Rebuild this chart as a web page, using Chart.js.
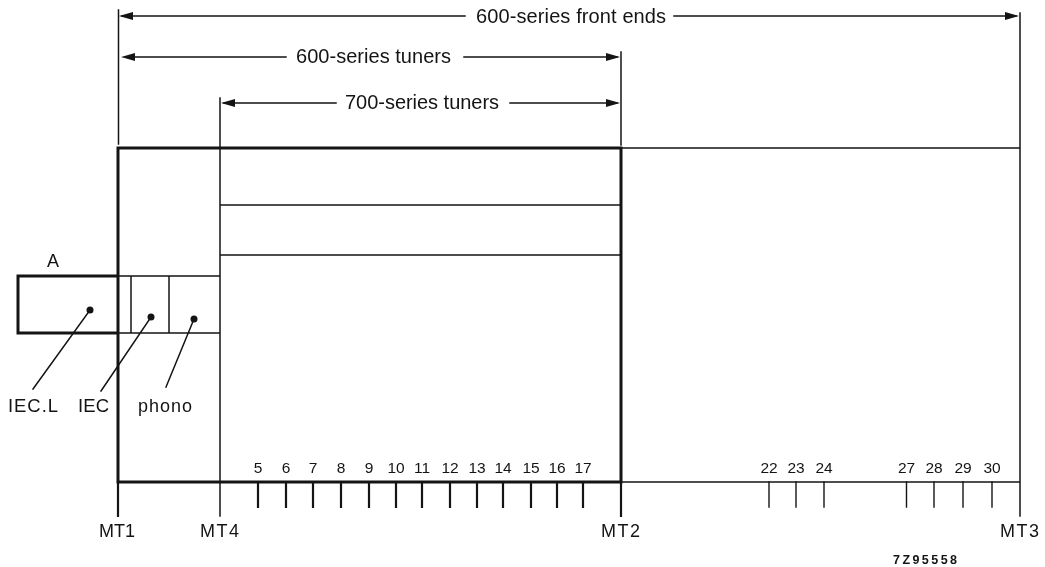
<!DOCTYPE html>
<html>
<head>
<meta charset="utf-8">
<title>600-series front ends</title>
<script src="https://cdn.jsdelivr.net/npm/chart.js@4"></script>
<style>
html, body { margin: 0; padding: 0; background: #fff; }
canvas { display: block; }
</style>
</head>
<body>
<canvas id="myChart" width="1045" height="567"></canvas>
<script>
// every value is in drawing units of the original figure (x 0-1045, y 0-567 downwards)
const heavySegments = [
  [118, 148, 621, 148], [118, 482, 621, 482], [118, 148, 118, 482], [621, 148, 621, 482],
  [18, 276, 118, 276], [18, 333, 118, 333], [18, 276, 18, 333]
];
const mediumSegments = [
  [118, 482, 118, 516], [621, 482, 621, 516]
];
const thinSegments = [
  [118.5, 10, 118.5, 144], [621, 52, 621, 145], [220, 98, 220, 516], [1020, 13, 1020, 516],
  [621, 148, 1020, 148], [621, 482, 1020, 482],
  [220, 205, 621, 205], [220, 255, 621, 255],
  [118, 276, 220, 276], [118, 333, 220, 333], [131, 276, 131, 333], [169, 276, 169, 333],
  [122, 16, 465, 16], [674, 16, 1016, 16],
  [126, 57, 286, 57], [464, 57, 617, 57],
  [224, 103, 336, 103], [510, 103, 617, 103],
  [90, 310, 33, 389], [151, 317, 101, 391], [194, 319, 166, 387]
];

const tunerChannels = ['5', '6', '7', '8', '9', '10', '11', '12', '13', '14', '15', '16', '17'];
const tunerTickX = [258, 286, 313, 341, 369, 396, 422, 450, 477, 503, 531, 557, 583];
const frontChannels = ['22', '23', '24', '27', '28', '29', '30'];
const frontTickX = [769, 796, 824, 906.5, 934, 963, 992];
const tickTop = 482;
const tickBottom = 507;
const channelLabelY = 473;

const dotPoints = [[90, 310], [151, 317], [194, 319]];
const arrowsLeft = [[119, 16], [121, 57], [221, 103]];
const arrowsRight = [[1019, 16], [620, 57], [620, 103]];

// text, x start, baseline y, width, font size
const captions = [
  ['600-series front ends', 476, 23, 190, 20],
  ['600-series tuners', 296, 63, 155, 20],
  ['700-series tuners', 345, 109, 154, 20],
  ['A', 47, 267, 14, 18],
  ['IEC.L', 8, 412, 50, 18.5],
  ['IEC', 78, 412, 31, 18.5],
  ['phono', 138, 412, 54, 18],
  ['MT1', 99, 537, 36, 18],
  ['MT4', 200, 537, 39, 18],
  ['MT2', 601, 537, 39, 18],
  ['MT3', 1000, 537, 39, 18]
];
const figureCode = ['7Z95558', 893, 564, 64, 12.5];

const INK = '#141414';

function toPoints(segments) {
  const pts = [];
  segments.forEach(s => {
    pts.push({ x: s[0], y: s[1] }, { x: s[2], y: s[3] }, { x: s[2], y: null });
  });
  return pts;
}

function ticksToSegments(xs) {
  return xs.map(x => [x, tickTop, x, tickBottom]);
}

function lineSet(segments, width) {
  return {
    data: toPoints(segments),
    showLine: true,
    spanGaps: false,
    borderColor: INK,
    borderWidth: width,
    borderCapStyle: 'square',
    pointRadius: 0
  };
}

function arrowImage(dir) {
  const c = document.createElement('canvas');
  c.width = 14;
  c.height = 8;
  const g = c.getContext('2d');
  g.fillStyle = INK;
  g.beginPath();
  if (dir < 0) {
    g.moveTo(0, 4); g.lineTo(14, 0); g.lineTo(14, 8);
  } else {
    g.moveTo(14, 4); g.lineTo(0, 0); g.lineTo(0, 8);
  }
  g.closePath();
  g.fill();
  return c;
}

function arrowSet(tips, dir) {
  return {
    data: tips.map(t => ({ x: t[0] - dir * 7, y: t[1] })),
    showLine: false,
    pointStyle: arrowImage(dir)
  };
}

const captionPlugin = {
  id: 'captions',
  afterDatasetsDraw(chart) {
    const { ctx, scales: { x, y } } = chart;
    ctx.save();
    ctx.fillStyle = INK;
    ctx.textBaseline = 'alphabetic';
    const put = (text, px, py, width, size, weight) => {
      ctx.font = (weight || '') + ' ' + size + 'px "Liberation Sans", Arial, sans-serif';
      ctx.letterSpacing = '0px';
      const spare = width - ctx.measureText(text).width;
      ctx.letterSpacing = (spare / Math.max(text.length - 1, 1)).toFixed(2) + 'px';
      ctx.fillText(text, x.getPixelForValue(px), y.getPixelForValue(py));
    };
    captions.forEach(c => put(c[0], c[1], c[2], c[3], c[4]));
    put(figureCode[0], figureCode[1], figureCode[2], figureCode[3], figureCode[4], 'bold');
    // channel numbers sit centred over their ticks
    ctx.letterSpacing = '0px';
    ctx.textAlign = 'center';
    ctx.font = '15.5px "Liberation Sans", Arial, sans-serif';
    tunerChannels.forEach((t, i) => {
      ctx.fillText(t, x.getPixelForValue(tunerTickX[i]), y.getPixelForValue(channelLabelY));
    });
    frontChannels.forEach((t, i) => {
      ctx.fillText(t, x.getPixelForValue(frontTickX[i]), y.getPixelForValue(channelLabelY));
    });
    ctx.restore();
  }
};

new Chart(document.getElementById('myChart'), {
  type: 'scatter',
  data: {
    datasets: [
      lineSet(heavySegments, 3),
      lineSet(mediumSegments, 2.2),
      lineSet(thinSegments, 1.5),
      lineSet(ticksToSegments(tunerTickX), 2.2),
      lineSet(ticksToSegments(frontTickX), 1.4),
      {
        data: dotPoints.map(p => ({ x: p[0], y: p[1] })),
        showLine: false,
        pointRadius: 3.5,
        pointBackgroundColor: INK,
        pointBorderWidth: 0
      },
      arrowSet(arrowsLeft, -1),
      arrowSet(arrowsRight, 1)
    ]
  },
  options: {
    responsive: false,
    animation: false,
    layout: { padding: 0, autoPadding: false },
    plugins: { legend: { display: false }, tooltip: { enabled: false } },
    scales: {
      x: { type: 'linear', display: false, min: 0, max: 1045 },
      y: { type: 'linear', display: false, min: 0, max: 567, reverse: true }
    }
  },
  plugins: [captionPlugin]
});
</script>
</body>
</html>
